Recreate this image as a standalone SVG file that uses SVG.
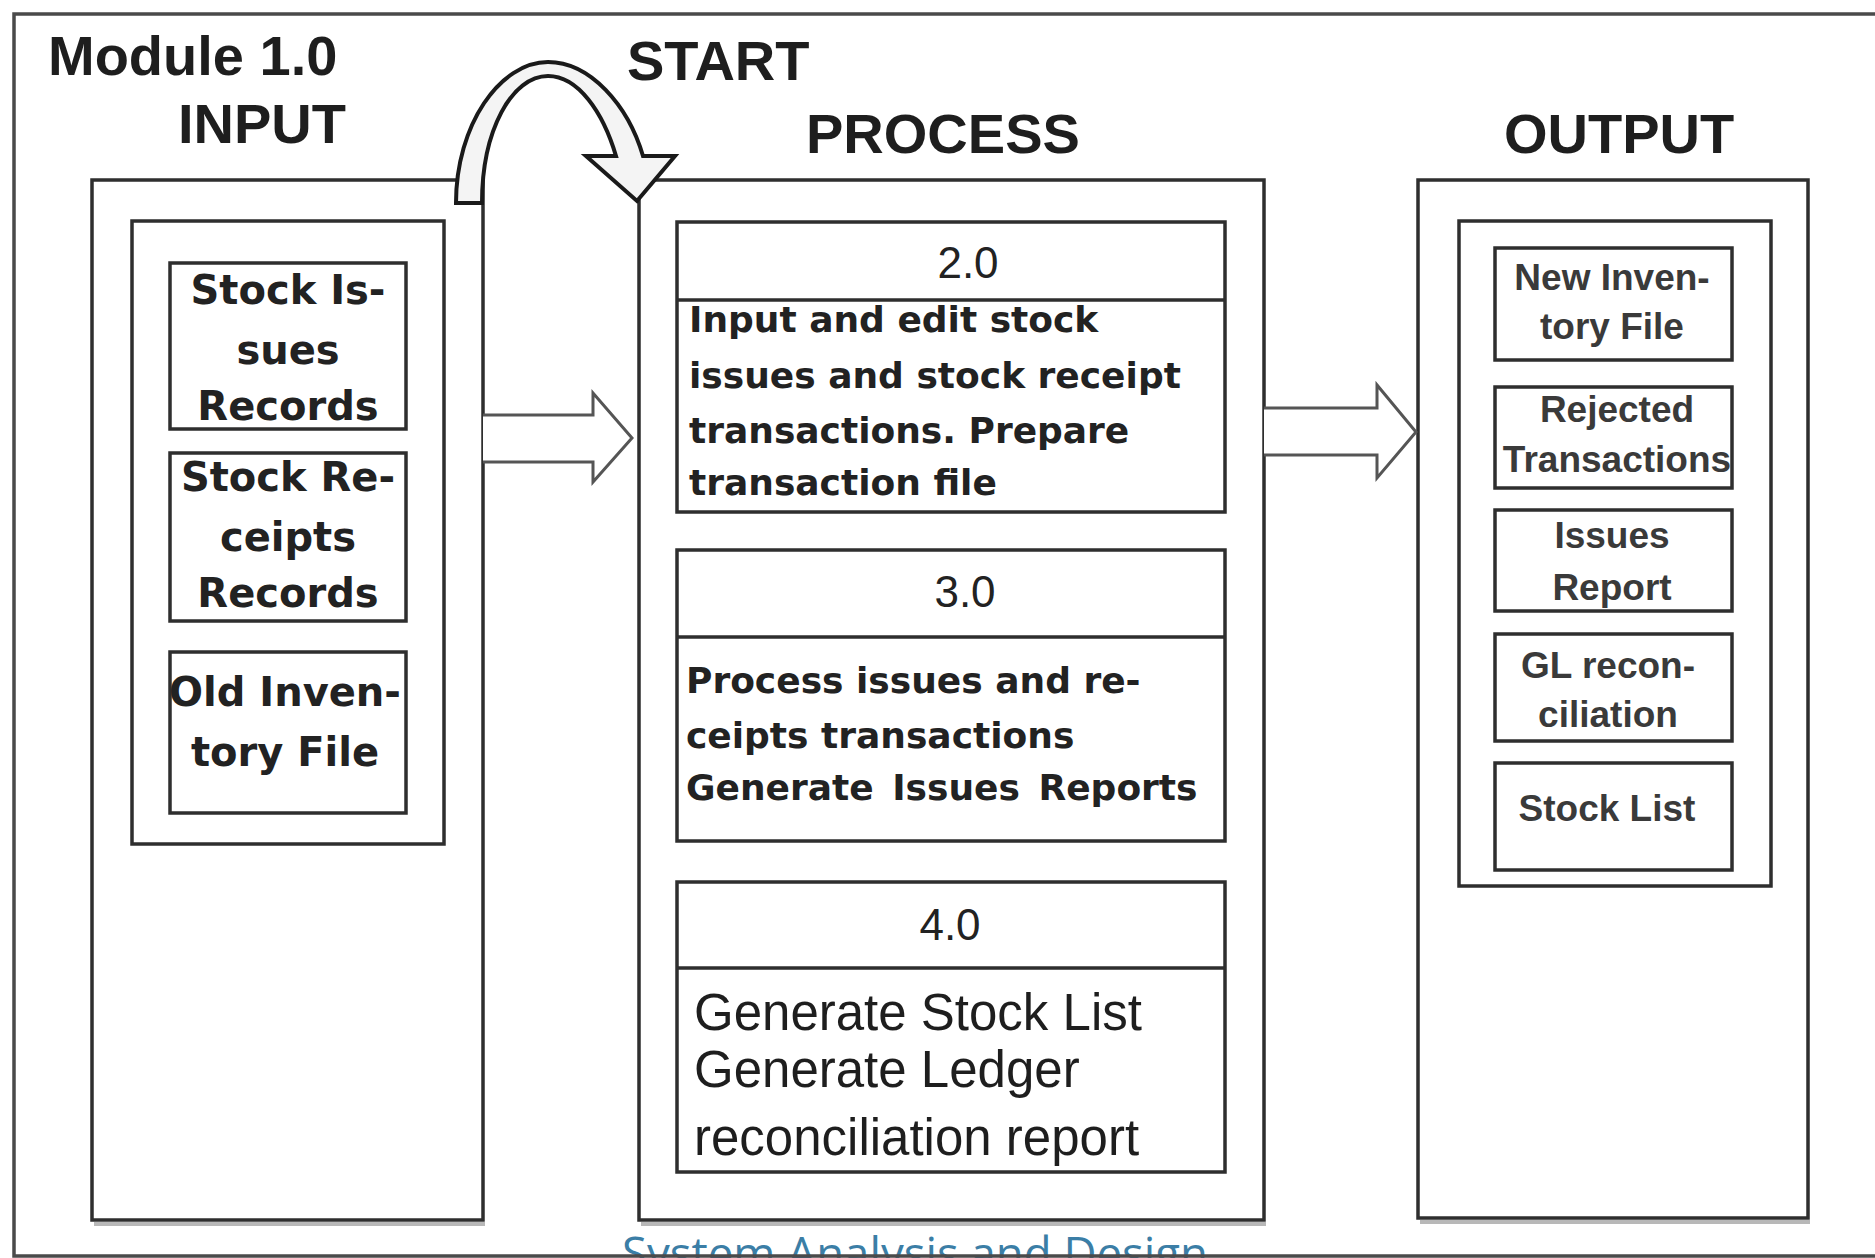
<svg xmlns="http://www.w3.org/2000/svg" width="1875" height="1258" viewBox="0 0 1875 1258">
  <style>
    .box { fill: #ffffff; stroke: #2e2e2e; stroke-width: 3.5; }
    .shadow { fill: none; stroke: #9a9a9a; stroke-width: 4; opacity: 0.7; }
    .head { font-family: "Liberation Sans", Arial, sans-serif; font-weight: bold; font-size: 56px; fill: #1e1e1e; }
    .inp { font-family: "DejaVu Sans", Verdana, sans-serif; font-weight: bold; font-size: 40px; fill: #222222; text-anchor: middle; }
    .proc { font-family: "DejaVu Sans", Verdana, sans-serif; font-weight: bold; font-size: 36px; fill: #222222; }
    .num { font-family: "Liberation Sans", Arial, sans-serif; font-size: 44px; fill: #222222; text-anchor: middle; }
    .gen { font-family: "Liberation Sans", Arial, sans-serif; font-size: 51px; fill: #1e1e1e; }
    .out { font-family: "Liberation Sans", Arial, sans-serif; font-weight: bold; font-size: 37px; fill: #3a3a3a; text-anchor: middle; }
    .block { fill: #ffffff; stroke: #555555; stroke-width: 3; stroke-linejoin: miter; }
    .curve { fill: #f4f4f4; stroke: #1a1a1a; stroke-width: 4; stroke-linejoin: miter; }
    .foot { font-family: "Open Sans", "Noto Sans", sans-serif; font-size: 46px; fill: #3b7ea6; }
  </style>

  <rect width="1875" height="1258" fill="#ffffff"/>

  <!-- footer caption (cut off by bottom edge) -->
  <text class="foot" x="622" y="1270" textLength="586" lengthAdjust="spacingAndGlyphs">System Analysis and Design</text>

  <!-- outer frame -->
  <path id="frame" d="M1875 14 H14 V1256 H1875" fill="none" stroke="#4a4a4a" stroke-width="3.5"/>

  <!-- headings -->
  <g id="headings">
    <text class="head" x="48" y="75">Module 1.0</text>
    <text class="head" x="178" y="143">INPUT</text>
    <text class="head" x="627" y="80">START</text>
    <text class="head" x="806" y="153">PROCESS</text>
    <text class="head" x="1504" y="153">OUTPUT</text>
  </g>

  <!-- INPUT module -->
  <g id="input-module">
    <line class="shadow" x1="94" y1="1224" x2="485" y2="1224"/>
    <rect class="box" x="92" y="180" width="391" height="1040"/>
    <rect class="box" x="132" y="221" width="312" height="623"/>
    <g id="stock-issues-records">
      <rect class="box" x="170" y="263" width="236" height="166"/>
      <text class="inp" x="288" y="304">Stock Is-</text>
      <text class="inp" x="288" y="364">sues</text>
      <text class="inp" x="288" y="420">Records</text>
    </g>
    <g id="stock-receipts-records">
      <rect class="box" x="170" y="453" width="236" height="168"/>
      <text class="inp" x="288" y="491">Stock Re-</text>
      <text class="inp" x="288" y="551">ceipts</text>
      <text class="inp" x="288" y="607">Records</text>
    </g>
    <g id="old-inventory-file">
      <rect class="box" x="170" y="652" width="236" height="161"/>
      <text class="inp" x="285" y="706">Old Inven-</text>
      <text class="inp" x="285" y="766">tory File</text>
    </g>
  </g>

  <!-- PROCESS module -->
  <g id="process-module">
    <line class="shadow" x1="641" y1="1224" x2="1266" y2="1224"/>
    <rect class="box" x="639" y="180" width="625" height="1040"/>
    <g id="process-2">
      <rect class="box" x="677" y="222" width="548" height="290"/>
      <line class="box" x1="677" y1="300" x2="1225" y2="300"/>
      <text class="num" x="968" y="278">2.0</text>
      <text class="proc" x="689" y="332">Input and edit stock</text>
      <text class="proc" x="689" y="388">issues and stock receipt</text>
      <text class="proc" x="689" y="443">transactions. Prepare</text>
      <text class="proc" x="689" y="495">transaction file</text>
    </g>
    <g id="process-3">
      <rect class="box" x="677" y="550" width="548" height="291"/>
      <line class="box" x1="677" y1="637" x2="1225" y2="637"/>
      <text class="num" x="965" y="607">3.0</text>
      <text class="proc" x="686" y="693">Process issues and re-</text>
      <text class="proc" x="686" y="748">ceipts transactions</text>
      <text class="proc" x="686" y="800" word-spacing="6">Generate Issues Reports</text>
    </g>
    <g id="process-4">
      <rect class="box" x="677" y="882" width="548" height="290"/>
      <line class="box" x1="677" y1="968" x2="1225" y2="968"/>
      <text class="num" x="950" y="940">4.0</text>
      <text class="gen" x="694" y="1030">Generate Stock List</text>
      <text class="gen" x="694" y="1087">Generate Ledger</text>
      <text class="gen" x="694" y="1155">reconciliation report</text>
    </g>
  </g>

  <!-- OUTPUT module -->
  <g id="output-module">
    <line class="shadow" x1="1420" y1="1222" x2="1810" y2="1222"/>
    <rect class="box" x="1418" y="180" width="390" height="1038"/>
    <rect class="box" x="1459" y="221" width="312" height="665"/>
    <g id="new-inventory-file">
      <rect class="box" x="1495" y="248" width="237" height="112"/>
      <text class="out" x="1612" y="290">New Inven-</text>
      <text class="out" x="1612" y="339">tory File</text>
    </g>
    <g id="rejected-transactions">
      <rect class="box" x="1495" y="387" width="237" height="101"/>
      <text class="out" x="1617" y="422">Rejected</text>
      <text class="out" x="1617" y="472">Transactions</text>
    </g>
    <g id="issues-report">
      <rect class="box" x="1495" y="510" width="237" height="101"/>
      <text class="out" x="1612" y="548">Issues</text>
      <text class="out" x="1612" y="600">Report</text>
    </g>
    <g id="gl-reconciliation">
      <rect class="box" x="1495" y="634" width="237" height="107"/>
      <text class="out" x="1608" y="678">GL recon-</text>
      <text class="out" x="1608" y="727">ciliation</text>
    </g>
    <g id="stock-list">
      <rect class="box" x="1495" y="763" width="237" height="107"/>
      <text class="out" x="1607" y="821">Stock List</text>
    </g>
  </g>

  <!-- connectors -->
  <g id="connectors">
    <path id="start-arrow" class="curve" d="M456 203 C456 125 500 62 548 62 C590 62 628 105 643 156 L675 156 L637 201 L586 156 L616 156 C603 112 578 76 548 76 C512 76 482 130 482 203 Z"/>
    <path id="input-to-process" class="block" d="M483 415 H593 V393 L632 438 L593 482 V462 H483"/>
    <path id="process-to-output" class="block" d="M1264 408 H1377 V385 L1416 432 L1377 478 V455 H1264"/>
  </g>
</svg>
